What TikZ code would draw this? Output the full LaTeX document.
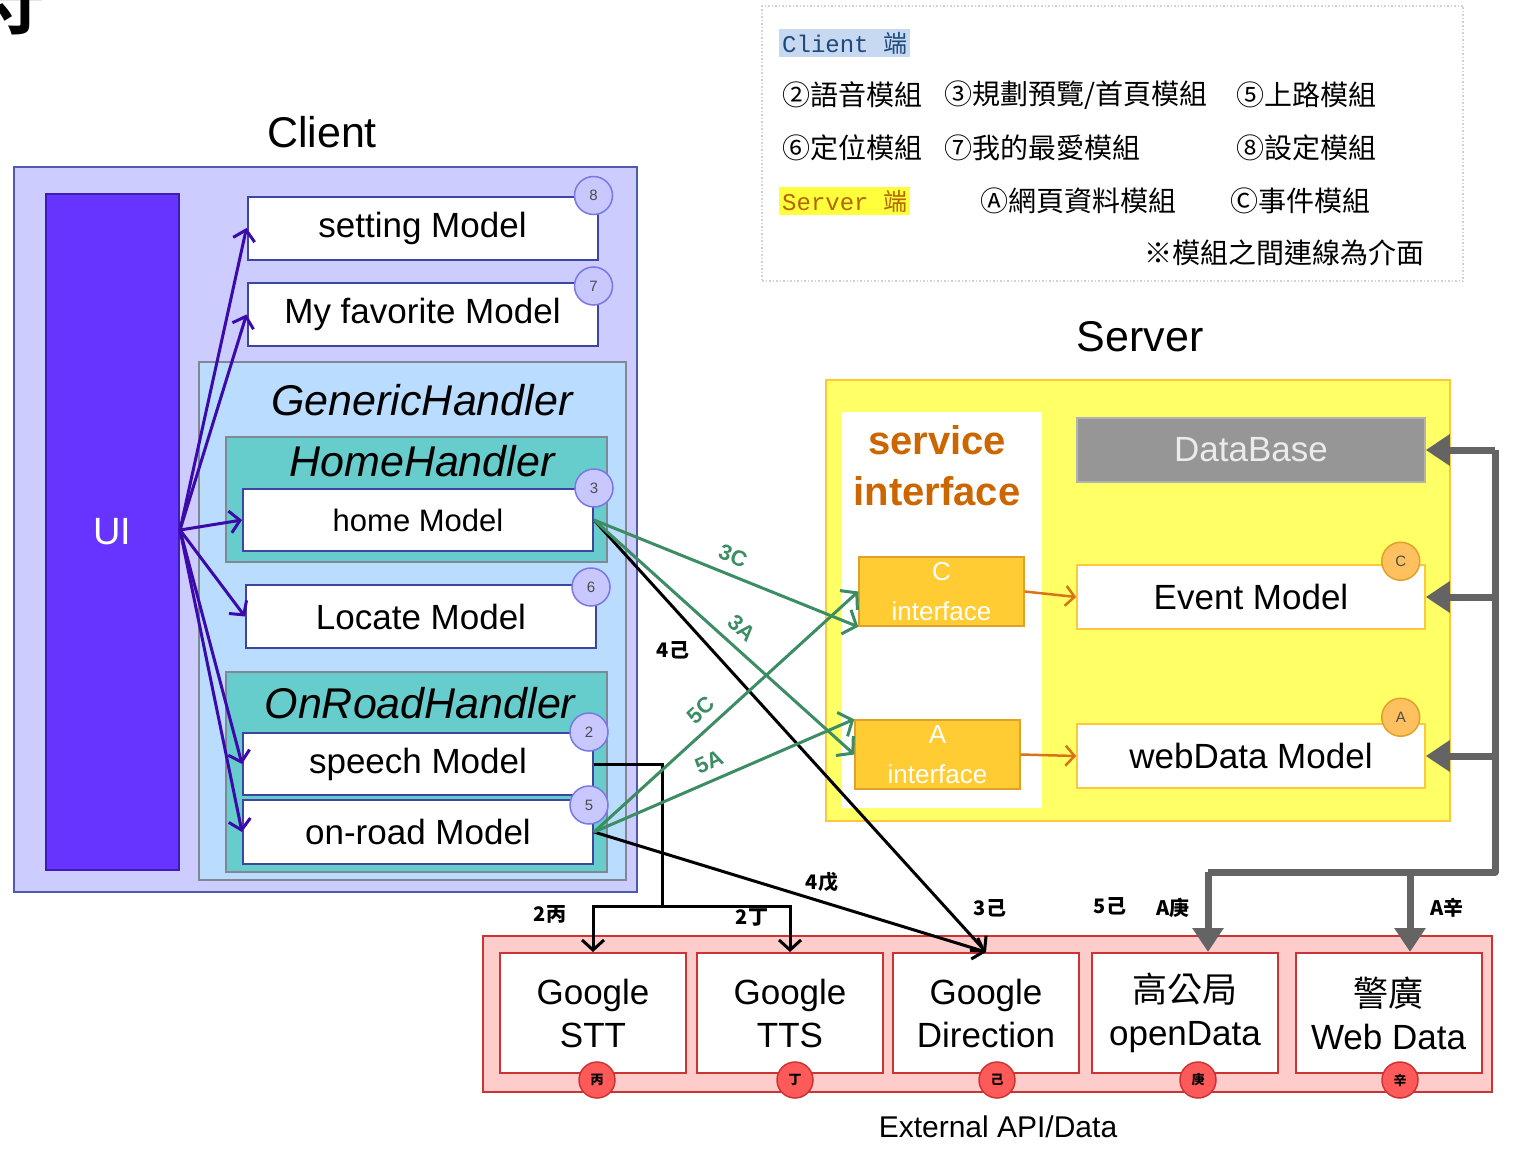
\documentclass[tikz,border=0pt]{standalone}
\usepackage{fontspec}
\setmainfont{Liberation Sans}
\newfontfamily\cjk{Noto Sans CJK TC}
\newfontfamily\legmono{Liberation Mono}
\usepackage{tikz}
\usetikzlibrary{arrows.meta, positioning, calc}
\definecolor{clientfill}{RGB}{204, 204, 255}
\definecolor{clientline}{RGB}{80, 90, 170}
\definecolor{uifill}{RGB}{102, 51, 255}
\definecolor{uiline}{RGB}{60, 30, 180}
\definecolor{modelline}{RGB}{60, 70, 160}
\definecolor{genfill}{RGB}{186, 220, 255}
\definecolor{genline}{RGB}{130, 135, 150}
\definecolor{homefill}{RGB}{102, 204, 204}
\definecolor{uiarrow}{RGB}{60, 10, 170}
\definecolor{badgefill}{RGB}{200, 200, 255}
\definecolor{badgeline}{RGB}{120, 120, 230}
\definecolor{linkgreen}{RGB}{60, 140, 100}
\definecolor{serverfill}{RGB}{255, 255, 102}
\definecolor{serverline}{RGB}{255, 200, 60}
\definecolor{sitext}{RGB}{204, 102, 0}
\definecolor{ifill}{RGB}{255, 204, 51}
\definecolor{iline}{RGB}{225, 160, 40}
\definecolor{linkorange}{RGB}{217, 115, 26}
\definecolor{dbfill}{RGB}{150, 150, 150}
\definecolor{busgray}{RGB}{100, 100, 100}
\definecolor{obadge}{RGB}{255, 192, 96}
\definecolor{extfill}{RGB}{255, 204, 204}
\definecolor{extline}{RGB}{204, 51, 51}
\definecolor{rbadge}{RGB}{255, 90, 90}
\definecolor{legblue}{RGB}{198, 217, 240}
\definecolor{legbluetext}{RGB}{31, 73, 125}
\definecolor{legyellow}{RGB}{255, 255, 60}
\definecolor{legyellowtext}{RGB}{180, 100, 0}

\begin{document}
\begin{tikzpicture}[
    x=1pt, y=-1pt,
    box/.style={rectangle, inner sep=0pt, line width=2pt},
    model/.style={box, draw=modelline, fill=white, minimum width=350pt, minimum height=63pt, font=\fontsize{35}{42}\selectfont},
    handler/.style={box, draw=genline, fill=homefill, minimum width=381pt},
    badge/.style={circle, draw=badgeline, fill=badgefill, line width=1.5pt, minimum size=38pt, inner sep=0pt, font=\fontsize{15}{15}\selectfont, text=black!70},
    obadgest/.style={badge, draw=iline, fill=obadge},
    rbadgest/.style={badge, draw=extline, fill=rbadge, minimum size=36pt, font=\cjk\bfseries\fontsize{13}{13}\selectfont, text=black},
    title/.style={font=\fontsize{43}{50}\selectfont},
    htitle/.style={font=\itshape\fontsize{43}{50}\selectfont},
    iface/.style={box, draw=iline, fill=ifill, line width=1.5pt, minimum width=165pt, minimum height=69pt, align=center, text=white, font=\fontsize{26}{40}\selectfont},
    smodel/.style={box, draw=serverline, fill=white, line width=1.5pt, minimum width=348pt, minimum height=64pt, font=\fontsize{35}{42}\selectfont},
    extbox/.style={box, draw=extline, fill=white, minimum width=186pt, minimum height=120pt, align=center, font=\fontsize{35}{43}\selectfont},
    leg/.style={anchor=west, inner sep=0pt, font=\cjk\fontsize{28}{30}\selectfont},
    tag/.style={anchor=west, inner sep=3pt, font=\fontsize{24}{26}\selectfont},
    linklabel/.style={font=\cjk\bfseries\fontsize{20}{20}\selectfont},
    greenlabel/.style={linklabel, text=linkgreen, sloped, above=6pt, font=\bfseries\fontsize{22}{22}\selectfont},
    uilink/.style={draw=uiarrow, line width=3pt, -{Straight Barb[length=10pt, width=22pt]}},
    greenlink/.style={draw=linkgreen, line width=3pt, -{Straight Barb[length=11pt, width=26pt]}},
    blacklink/.style={draw=black, line width=3pt, -{Straight Barb[length=10pt, width=22pt]}},
    orangelink/.style={draw=linkorange, line width=2.5pt, -{Straight Barb[length=9pt, width=20pt]}},
    bus/.style={draw=busgray, line width=7pt, line join=round},
    bustip/.style={bus, -{Triangle[length=24pt, width=30pt]}}
  ]

  \useasboundingbox (0,0) rectangle (1529,1151);

  % cut-off heading character
  \node[font=\cjk\bfseries\fontsize{56}{56}\selectfont, inner sep=0pt] (head) at (16,8) {寸};

  % legend
  \node[draw=gray!35, dotted, line width=1.5pt, minimum width=701pt, minimum height=275pt, inner sep=0pt] (legend) at (1112.5,143.5) {};
  \node[tag, fill=legblue, text=legbluetext] (legclient) at (779,43) {\legmono Client \cjk 端};
  \node[leg] (l2) at (782,95) {②語音模組};
  \node[leg] (l3) at (944,95) {③規劃預覽/首頁模組};
  \node[leg] (l5) at (1236,95) {⑤上路模組};
  \node[leg] (l6) at (782,148) {⑥定位模組};
  \node[leg] (l7) at (944,148) {⑦我的最愛模組};
  \node[leg] (l8) at (1236,148) {⑧設定模組};
  \node[tag, fill=legyellow, text=legyellowtext] (legserver) at (779,201) {\legmono Server \cjk 端};
  \node[leg] (la) at (980,201) {Ⓐ網頁資料模組};
  \node[leg] (lc) at (1230,201) {Ⓒ事件模組};
  \node[leg, anchor=east] (lnote) at (1425,253) {※模組之間連線為介面};

  % client side
  \node[title] (clienttitle) at (322,132) {Client};
  \node[box, draw=clientline, fill=clientfill, minimum width=623pt, minimum height=725pt] (client) at (325.5,529.5) {};
  \node[box, draw=uiline, fill=uifill, minimum width=133pt, minimum height=676pt, text=white, font=\fontsize{38}{40}\selectfont] (ui) at (112.5,532) {UI};
  \node[model] (setting) at (422.5,228) {setting Model};
  \node[model] (fav) at (422.5,314.5) {My favorite Model};
  \node[box, draw=genline, fill=genfill, minimum width=427pt, minimum height=518pt] (generic) at (412.5,621) {};
  \node[htitle] (generictitle) at (422,400) {GenericHandler};
  \node[handler, minimum height=125pt] (homeh) at (416.5,499.5) {};
  \node[htitle] (hometitle) at (422,461) {HomeHandler};
  \node[model, minimum height=62pt, font=\fontsize{31}{38}\selectfont] (home) at (418,520) {home Model};
  \node[model] (locate) at (421,616.5) {Locate Model};
  \node[handler, minimum height=200pt] (onroadh) at (416.5,772) {};
  \node[htitle] (onroadtitle) at (420,703) {OnRoadHandler};
  \node[model, minimum height=62pt] (speech) at (418,764) {speech Model};
  \node[model, minimum height=64pt] (onroad) at (418,832) {on-road Model};

  \node[badge] (b8) at ($(setting.north east)+(-5,0)$) {8};
  \node[badge] (b7) at ($(fav.north east)+(-5,4)$) {7};
  \node[badge] (b3) at (home.north east) {3};
  \node[badge] (b6) at ($(locate.north east)+(-6,3)$) {6};
  \node[badge] (b2) at ($(speech.north east)+(-5,0)$) {2};
  \node[badge] (b5) at ($(onroad.north east)+(-5,6)$) {5};

  % server side
  \node[title] (servertitle) at (1140,337) {Server};
  \node[box, draw=serverline, fill=serverfill, minimum width=624pt, minimum height=441pt] (server) at (1138,600.5) {};
  \node[box, fill=white, minimum width=200pt, minimum height=396pt] (sipanel) at (942,610) {};
  \node[align=center, text=sitext, font=\bfseries\fontsize{40}{51}\selectfont] (sititle) at (937,466) {service\\interface};
  \node[box, draw=gray!60, fill=dbfill, line width=1.5pt, minimum width=348pt, minimum height=64pt, text=white!92!black, font=\fontsize{35}{42}\selectfont] (db) at (1251,450) {DataBase};
  \node[iface] (cif) at (941.5,591.5) {C\\interface};
  \node[iface] (aif) at (937.5,754.5) {A\\interface};
  \node[smodel] (event) at (1251,597) {Event Model};
  \node[smodel] (web) at (1251,756) {webData Model};
  \node[obadgest] (bc) at ($(event.north east)+(-25,-3)$) {C};
  \node[obadgest] (ba) at ($(web.north east)+(-25,-6)$) {A};

  % external
  \node[box, draw=extline, fill=extfill, minimum width=1009pt, minimum height=156pt] (ext) at (987.5,1014) {};
  \node[extbox] (stt) at (593,1013) {Google\\STT};
  \node[extbox] (tts) at (790,1013) {Google\\TTS};
  \node[extbox] (dir) at (986,1013) {Google\\Direction};
  \node[extbox] (gao) at (1185,1013) {{\cjk 高公局}\\openData};
  \node[extbox] (jing) at (1388.5,1013) {{\cjk 警廣}\\Web Data};
  \foreach \x/\t/\n in {597/丙/stt, 795/丁/tts, 997/己/dir, 1198/庚/gao, 1400/辛/jing}
    \node[rbadgest] (r\n) at (\x,1080) {\t};
  \node[font=\fontsize{30}{32}\selectfont] (exttitle) at (998,1127) {External API/Data};

  % links
  \coordinate (uiout) at (180,530);
  \foreach \m in {setting, fav, home, locate, speech, onroad}
    \draw[uilink] (uiout) -- (\m.west);

  \draw[orangelink] (cif.east) -- (event.west);
  \draw[orangelink] (aif.east) -- (web.west);

  \coordinate (split) at (662,906);
  \draw[draw=black, line width=3pt] (speech.east) -| (split);
  \draw[blacklink] (split) -| (stt.north);
  \draw[blacklink] (split) -| (tts.north);
  \draw[blacklink] (home.east) -- (dir.north);
  \draw[blacklink] (onroad.east) -- (dir.north);

  \draw[greenlink] (home.east) -- node[greenlabel] {3C} (cif.south west);
  \draw[greenlink] (home.east) -- node[greenlabel, pos=0.52] {3A} (aif.west);
  \draw[greenlink] (onroad.east) -- node[greenlabel, pos=0.45] {5C} (cif.west);
  \draw[greenlink] (onroad.east) -- node[greenlabel, pos=0.47] {5A} (aif.north west);

  \coordinate (busbot) at (1495,872);
  \coordinate (bustop) at (1495,450);
  \coordinate (gaodrop) at (1208,872);
  \coordinate (jingdrop) at (1410,872);
  \draw[bus] (gaodrop) -- (busbot) -- (bustop);
  \foreach \n in {db, event, web}
    \draw[bustip] (busbot |- \n.east) -- (\n.east);
  \draw[bustip] (gaodrop) -- (gaodrop |- gao.north);
  \draw[bustip] (jingdrop) -- (jingdrop |- jing.north);

  \node[linklabel] (l4ji) at (673,650) {4己};
  \node[linklabel] (l4wu) at (822,882) {4戊};
  \node[linklabel] (l3ji) at (990,908) {3己};
  \node[linklabel] (l5ji) at (1110,906) {5己};
  \node[linklabel] (l2bing) at (550,914) {2丙};
  \node[linklabel] (l2ding) at (752,918) {2丁};
  \node[linklabel] (lageng) at (1173,908) {A庚};
  \node[linklabel] (laxin) at (1447,908) {A辛};

\end{tikzpicture}
\end{document}
